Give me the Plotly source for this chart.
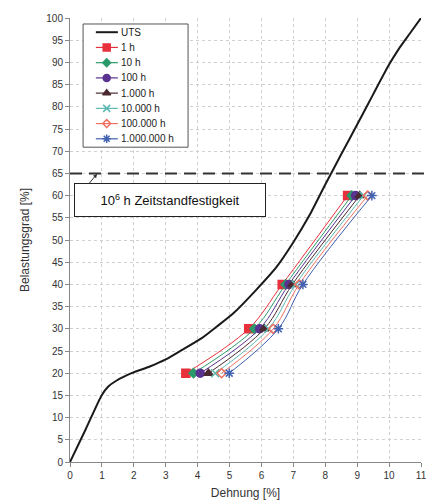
import plotly.graph_objects as go

# UTS curve
uts_x = [0, 0.5, 0.99, 1.2, 1.45, 1.93, 2.5, 3.0, 3.5, 4.13, 4.6, 5.12, 5.8, 6.48, 7.0, 7.5, 8.0, 8.5, 9.0, 9.5, 10.0, 10.3, 10.65, 11.0]
uts_y = [0, 7.5, 15, 17, 18.3, 20, 21.5, 23.1, 25.2, 27.9, 30.5, 33.5, 38.5, 44, 49.5, 55.5, 62.5, 69.3, 76, 82.8, 89.5, 93, 96.5, 100]

# Creep series
load_levels = [20, 30, 40, 60]
series_names = ["1 h", "10 h", "100 h", "1.000 h", "10.000 h", "100.000 h", "1.000.000 h"]
x_1h = [3.63, 5.60, 6.65, 8.70]
x_10h = [3.87, 5.78, 6.76, 8.83]
x_100h = [4.08, 5.94, 6.86, 8.95]
x_1000h = [4.34, 6.09, 6.97, 9.08]
x_10000h = [4.55, 6.22, 7.07, 9.20]
x_100000h = [4.75, 6.37, 7.18, 9.33]
x_1000000h = [4.99, 6.53, 7.30, 9.46]
series_x = [x_1h, x_10h, x_100h, x_1000h, x_10000h, x_100000h, x_1000000h]

colors = ["#e8303c", "#2a9a6a", "#5a3290", "#4a2a30", "#5cb8b0", "#f07060", "#4060b0"]
symbols = ["square", "diamond", "circle", "triangle-up", "x-thin-open", "diamond-open", "asterisk-open"]
sizes = [8, 7, 8, 8, 8, 7, 8]

x_ticks = list(range(0, 12))
y_ticks = list(range(0, 101, 5))

FONT = "Liberation Sans, Arial"

fig = go.Figure()
fig.add_trace(go.Scatter(x=uts_x, y=uts_y, mode="lines", name="UTS", showlegend=False,
                         line=dict(color="#1a1a1a", width=2, shape="spline", smoothing=0.6)))
for name, xs, c, s, sz in zip(series_names, series_x, colors, symbols, sizes):
    fig.add_trace(go.Scatter(x=xs, y=load_levels, mode="lines+markers", name=name, showlegend=False,
                             line=dict(color=c, width=1, shape="spline", smoothing=1),
                             marker=dict(color=c, symbol=s, size=sz, line=dict(color=c, width=1.5))))

# ---- hand-drawn legend (compact like the original) ----
leg_x0, leg_x1, leg_ytop, leg_ybot = 0.41, 3.70, 98.65, 70.9
leg_names = ["UTS"] + series_names
leg_colors = ["#1a1a1a"] + colors
leg_rows = [96.8 - 3.43 * i for i in range(len(leg_names))]
fig.add_shape(type="rect", xref="x", yref="y", x0=leg_x0, x1=leg_x1, y0=leg_ybot, y1=leg_ytop,
              line=dict(color="#555555", width=1), fillcolor="white", layer="between")
for i, (nm, c, yy) in enumerate(zip(leg_names, leg_colors, leg_rows)):
    fig.add_shape(type="line", xref="x", yref="y", x0=0.81, x1=1.50, y0=yy, y1=yy,
                  line=dict(color=c, width=2 if i == 0 else 1.2), layer="between")
    fig.add_annotation(x=1.55, y=yy, xref="x", yref="y", text=nm, showarrow=False,
                       xanchor="left", yanchor="middle",
                       font=dict(family=FONT, size=10, color="#222222"))
for c, s, sz, yy in zip(colors, symbols, sizes, leg_rows[1:]):
    fig.add_trace(go.Scatter(x=[1.15], y=[yy], mode="markers", showlegend=False, hoverinfo="skip",
                             marker=dict(color=c, symbol=s, size=sz - 1, line=dict(color=c, width=1.5))))

# 10^6 h line
fig.add_shape(type="line", xref="paper", yref="y", x0=0, x1=1.02, y0=65, y1=65,
              line=dict(color="#333333", width=2, dash="12px,7px"))

fig.add_annotation(x=3.13, y=59.0, xref="x", yref="y", showarrow=False,
                   text="10<sup>6</sup> h Zeitstandfestigkeit",
                   font=dict(family=FONT, size=13, color="#111111"),
                   bgcolor="white", bordercolor="#222222", borderwidth=1,
                   width=188, height=30, borderpad=1)
fig.add_annotation(x=0.85, y=64.9, ax=0.56, ay=62.4, xref="x", yref="y", axref="x", ayref="y",
                   text="", showarrow=True, arrowhead=2, arrowsize=0.8, arrowwidth=1, arrowcolor="#333333")

axis_common = dict(showline=True, linecolor="#888888", linewidth=1, ticks="outside", ticklen=4,
                   tickcolor="#888888", showgrid=True, gridcolor="#d0d0d0", griddash="dot", gridwidth=1,
                   zeroline=False, automargin=False,
                   tickfont=dict(family=FONT, size=10, color="#333333"))

fig.update_xaxes(range=[0, 11], tickvals=x_ticks,
                 title=dict(text="Dehnung [%]", font=dict(family=FONT, size=12, color="#333333"), standoff=8),
                 **axis_common)
fig.update_yaxes(range=[0, 100], tickvals=y_ticks,
                 title=dict(text="Belastungsgrad [%]", font=dict(family=FONT, size=12, color="#333333"), standoff=14),
                 **axis_common)

# page body adds an 8px offset, so the figure is sized to fit the 435x501 window
fig.update_layout(width=427, height=493, margin=dict(l=62, r=14, t=10, b=39),
                  plot_bgcolor="white", paper_bgcolor="white", showlegend=False)

fig.write_html("out.html")
